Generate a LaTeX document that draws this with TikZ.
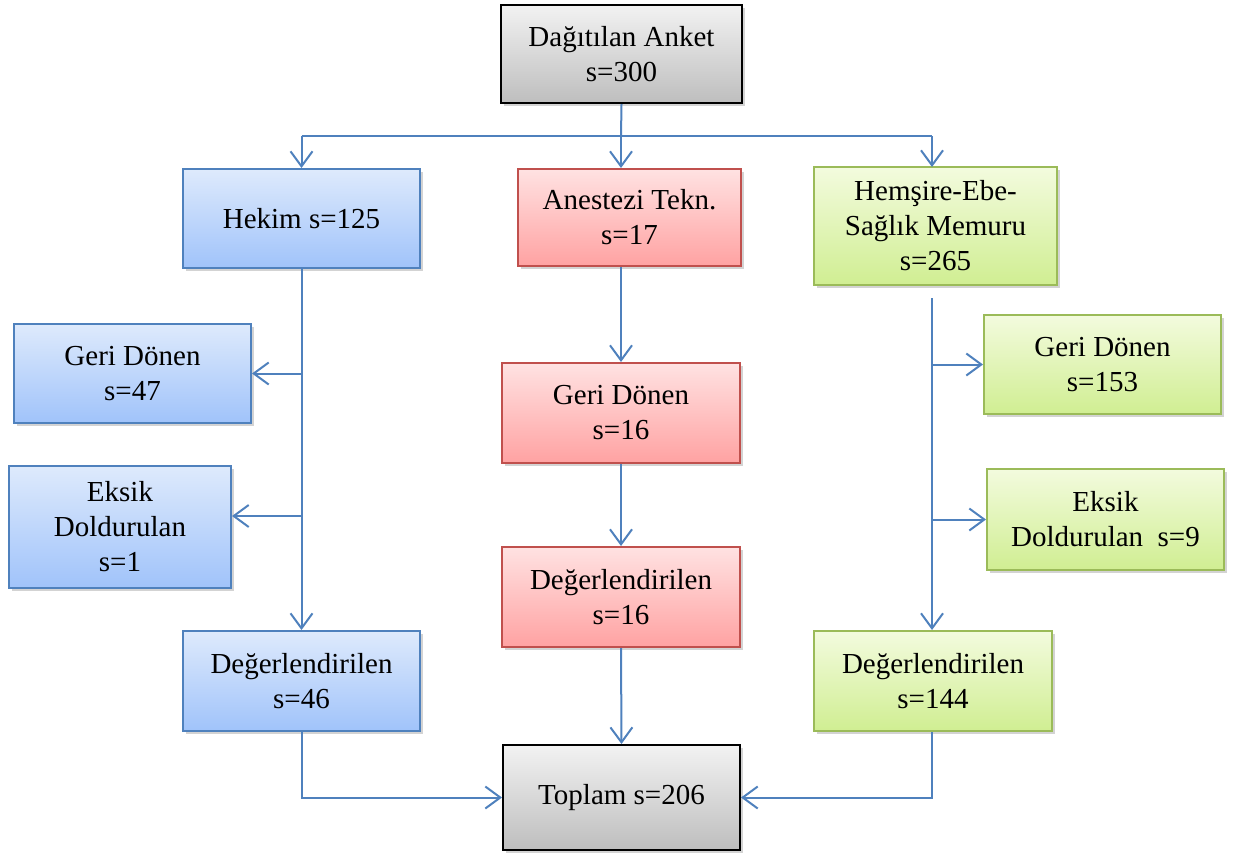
\documentclass[tikz,border=0pt]{standalone}
\usepackage{fontspec}
\setmainfont{Liberation Serif}
\usepackage{tikz}
\usepackage{xcolor}
\usetikzlibrary{arrows.meta,shadows}
\definecolor{linkblue}{RGB}{79,129,189}
\definecolor{boxblue}{RGB}{79,129,189}
\definecolor{boxred}{RGB}{192,80,77}
\definecolor{boxgreen}{RGB}{155,187,89}
\tikzset{
    base-box/.style = {rectangle, line width=2pt, align=center, inner sep=2pt,
        font=\fontsize{29}{35}\selectfont,
        drop shadow={shadow xshift=2.5pt, shadow yshift=-3pt, opacity=0.35}},
    blue-box/.style = {base-box, draw=boxblue, top color={rgb,255:red,222;green,234;blue,252}, bottom color={rgb,255:red,160;green,195;blue,250}},
    red-box/.style = {base-box, draw=boxred, top color={rgb,255:red,255;green,226;blue,226}, bottom color={rgb,255:red,255;green,162;blue,162}},
    green-box/.style = {base-box, draw=boxgreen, top color={rgb,255:red,243;green,251;blue,222}, bottom color={rgb,255:red,208;green,238;blue,146}},
    gray-box/.style = {base-box, draw=black, top color={rgb,255:red,242;green,242;blue,242}, bottom color={rgb,255:red,190;green,190;blue,190}},
    flow-line/.style = {draw=linkblue, line width=2pt},
    flow-arrow/.style = {flow-line, -{Straight Barb[length=15pt,width=22pt,line width=2pt]}},
}

\begin{document}
\begin{tikzpicture}[x=1pt,y=-1pt]
\useasboundingbox (0,0) rectangle (1236,855);

\node[gray-box, minimum width=241pt, minimum height=98pt] (anket) at (621.5,54) {Dağıtılan Anket\\s=300};

\node[blue-box, minimum width=237pt, minimum height=99pt] (hekim) at (301.5,218.5) {Hekim s=125};
\node[blue-box, minimum width=237pt, minimum height=99pt] (hgeri) at (132.5,373.5) {Geri Dönen\\s=47};
\node[blue-box, minimum width=222pt, minimum height=122pt] (heksik) at (120,527) {Eksik\\Doldurulan\\s=1};
\node[blue-box, minimum width=237pt, minimum height=100pt] (hdeger) at (301.5,681) {Değerlendirilen\\s=46};

\node[red-box, minimum width=223pt, minimum height=97pt] (anest) at (629.5,217.5) {Anestezi Tekn.\\s=17};
\node[red-box, minimum width=238pt, minimum height=100pt] (ageri) at (621,413) {Geri Dönen\\s=16};
\node[red-box, minimum width=238pt, minimum height=100pt] (adeger) at (621,597) {Değerlendirilen\\s=16};

\node[green-box, minimum width=243pt, minimum height=118pt] (hemsire) at (935.5,226) {Hemşire-Ebe-\\Sağlık Memuru\\s=265};
\node[green-box, minimum width=237pt, minimum height=99pt] (sgeri) at (1102.5,364.5) {Geri Dönen\\s=153};
\node[green-box, minimum width=237pt, minimum height=101pt] (seksik) at (1105.5,519.5) {Eksik\\Doldurulan~~s=9};
\node[green-box, minimum width=238pt, minimum height=100pt] (sdeger) at (933,681) {Değerlendirilen\\s=144};

\node[gray-box, minimum width=237pt, minimum height=105pt] (toplam) at (621.5,797.5) {Toplam s=206};

\coordinate (split) at (621,136);
\draw[flow-line] (anket.south) -- (split);
\draw[flow-line] (split -| hekim.north) -- (932,136);
\draw[flow-arrow] (split -| hekim.north) -- (hekim.north);
\draw[flow-arrow] (split) -- (split |- anest.north);
\draw[flow-arrow] (932,136) -- (932,167);

\coordinate (hb1) at (hekim.south |- hgeri.east);
\coordinate (hb2) at (302,516);
\draw[flow-arrow] (hekim.south) -- (hdeger.north);
\draw[flow-arrow] (hb1) -- (hgeri.east);
\draw[flow-arrow] (hb2) -- (hb2 -| heksik.east);

\draw[flow-arrow] (anest.south -| ageri.north) -- (ageri.north);
\draw[flow-arrow] (ageri.south) -- (adeger.north);
\draw[flow-arrow] (adeger.south) -- (toplam.north);

\coordinate (sb0) at (932,298);
\coordinate (sb1) at (932,364.5);
\coordinate (sb2) at (932,519.5);
\draw[flow-arrow] (sb0) -- (sb0 |- sdeger.north);
\draw[flow-arrow] (sb1) -- (sgeri.west);
\draw[flow-arrow] (sb2) -- (seksik.west);

\draw[flow-arrow] (hdeger.south) |- (toplam.west);
\draw[flow-arrow] (sb0 |- sdeger.south) |- (toplam.east);
\end{tikzpicture}
\end{document}
